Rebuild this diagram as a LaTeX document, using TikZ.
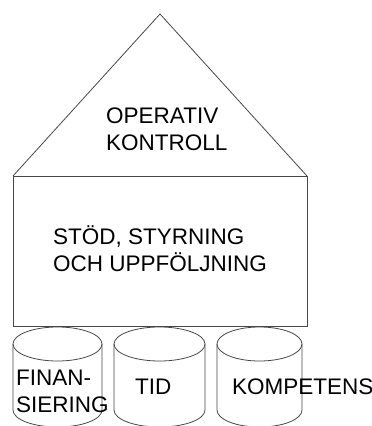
\documentclass[tikz,border=0pt]{standalone}
\usepackage{fontspec}
\setmainfont{Liberation Sans}
\begin{document}
\begin{tikzpicture}[x=1pt,y=-1pt,
  outline/.style={draw=black!72,line width=0.8pt},
  label/.style={inner sep=0pt,anchor=base west,font=\fontsize{22.5}{27}\selectfont,align=left}]
\useasboundingbox (0,0) rectangle (372,426);
% roof and wall
\coordinate (apex) at (160,14);
\coordinate (bl) at (13,176);
\coordinate (br) at (307,176);
\coordinate (wb) at (307,326);
\draw[outline] (bl) -- (apex) -- (br);
\draw[outline] (bl) rectangle (wb);
% three drums as the foundation
\foreach \l/\r in {13/102, 114/205, 217/302}{
  \pgfmathsetmacro{\cx}{(\l+\r)/2}
  \pgfmathsetmacro{\rx}{(\r-\l)/2}
  \begin{scope}
    \clip (0,0) rectangle (372,426);
    \draw[outline] (\cx,344) ellipse [x radius=\rx pt, y radius=17pt];
    \draw[outline] (\l,344) -- (\l,410) arc[start angle=180,end angle=360,x radius=\rx pt,y radius=17pt] -- (\r,344);
  \end{scope}
}
% texts
\node[label] (op) at (106,123) {OPERATIV};
\node[label] (ko) at (106,150) {KONTROLL};
\node[label] (st) at (53,244) {STÖD, STYRNING};
\node[label] (oc) at (53,271) {OCH UPPFÖLJNING};
\node[label] (fi) at (16,385) {FINAN-};
\node[label] (si) at (16,412) {SIERING};
\node[label] (ti) at (135,394) {TID};
\node[label] (km) at (232,394) {KOMPETENS};
\end{tikzpicture}
\end{document}
